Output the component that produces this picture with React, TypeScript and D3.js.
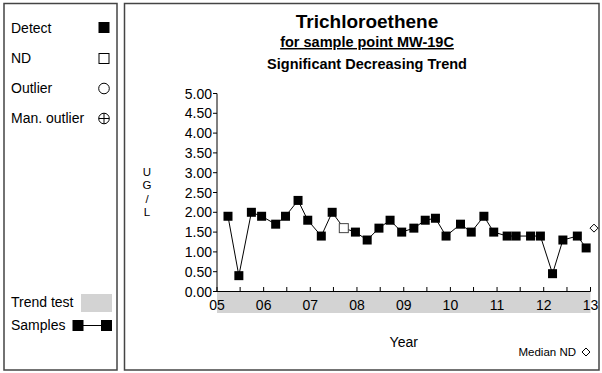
import * as d3 from 'd3';
import React from 'react';

// sampling dates and results (ug/L)
const sampleDates = [
  '2005-03-28', '2005-06-21', '2005-09-27', '2005-12-16',
  '2006-04-05', '2006-06-21', '2006-09-27', '2006-12-12',
  '2007-03-28', '2007-06-21', '2007-09-20', '2007-12-20',
  '2008-03-21', '2008-06-21', '2008-09-16', '2008-12-16',
  '2009-03-21', '2009-06-18', '2009-09-06', '2009-11-28',
  '2010-03-21', '2010-06-13', '2010-09-20', '2010-12-06',
  '2011-03-21', '2011-05-30', '2011-09-20', '2011-12-06',
  '2012-03-10', '2012-05-30', '2012-09-20', '2012-11-28',
];
const sampleValues = [
  1.9, 0.4, 2.0, 1.9,
  1.7, 1.9, 2.3, 1.8,
  1.4, 2.0, 1.6, 1.5,
  1.3, 1.6, 1.8, 1.5,
  1.6, 1.8, 1.85, 1.4,
  1.7, 1.5, 1.9, 1.5,
  1.4, 1.4, 1.4, 1.4,
  0.45, 1.3, 1.4, 1.1,
];
// true = non-detect
const sampleND = [
  false, false, false, false,
  false, false, false, false,
  false, false, true, false,
  false, false, false, false,
  false, false, false, false,
  false, false, false, false,
  false, false, false, false,
  false, false, false, false,
];
const medianND = 1.6;
const yTicks = [0, 0.5, 1, 1.5, 2, 2.5, 3, 3.5, 4, 4.5, 5];
const legendItems = ['Detect', 'ND', 'Outlier', 'Man. outlier'];
const unitLetters = ['U', 'G', '/', 'L'];

const FONT = '"Liberation Sans", Arial, sans-serif';

export default function App() {
  const parse = d3.timeParse('%Y-%m-%d');
  const data = sampleDates.map((d, i) => ({
    date: parse(d) as Date,
    value: sampleValues[i],
    nd: sampleND[i],
  }));

  const x = d3
    .scaleTime()
    .domain([new Date(2005, 0, 1), new Date(2013, 0, 1)])
    .range([217, 590.5]);
  const y = d3.scaleLinear().domain([0, 5]).range([291.5, 93.5]);

  const yearTicks = x.ticks(d3.timeYear.every(1));
  const halfTicks = d3.timeMonth.every(6)!.range(new Date(2005, 0, 1), new Date(2013, 0, 2));
  const fmt = d3.timeFormat('%y');

  const line = d3
    .line<{ date: Date; value: number }>()
    .x((d) => x(d.date))
    .y((d) => y(d.value));

  const sq = 9;
  const [x0, x1] = x.range();

  return (
    <svg
      width={602}
      height={373}
      style={{ position: 'absolute', left: 0, top: 0, background: '#fff' }}
      fontFamily={FONT}
    >
      {/* frames */}
      <rect x={4} y={3.5} width={113} height={366.5} fill="none" stroke="#444" strokeWidth={1.5} />
      <rect x={124.5} y={3.5} width={474.5} height={366.5} fill="none" stroke="#444" strokeWidth={1.5} />

      {/* legend */}
      {legendItems.map((t, i) => (
        <text key={t} x={11} y={33 + i * 30} fontSize={14}>
          {t}
        </text>
      ))}
      <rect x={98.5} y={22} width={11} height={11} fill="#000" />
      <rect x={99} y={53.5} width={10} height={10} fill="#fff" stroke="#000" strokeWidth={1} />
      <circle cx={104} cy={88.5} r={5.3} fill="none" stroke="#000" strokeWidth={1} />
      <circle cx={104} cy={118.5} r={5.3} fill="none" stroke="#000" strokeWidth={1} />
      <line x1={98.7} x2={109.3} y1={118.5} y2={118.5} stroke="#000" strokeWidth={1} />
      <line x1={104} x2={104} y1={113.2} y2={123.8} stroke="#000" strokeWidth={1} />

      <text x={11} y={307} fontSize={14}>Trend test</text>
      <rect x={81} y={294} width={31} height={18} fill="#d3d3d3" />
      <text x={11} y={330} fontSize={14}>Samples</text>
      <line x1={78} x2={106} y1={325.5} y2={325.5} stroke="#000" strokeWidth={1} />
      <rect x={72.5} y={320} width={11} height={11} fill="#000" />
      <rect x={101} y={320} width={11} height={11} fill="#000" />

      {/* titles */}
      <text x={367} y={28} fontSize={19} fontWeight="bold" textAnchor="middle">
        Trichloroethene
      </text>
      <text x={367} y={47} fontSize={14.5} fontWeight="bold" textAnchor="middle" textDecoration="underline">
        for sample point MW-19C
      </text>
      <text x={367} y={69} fontSize={14.5} fontWeight="bold" textAnchor="middle">
        Significant Decreasing Trend
      </text>

      {/* trend test band */}
      <rect x={x0} y={292} width={x1 - x0} height={21} fill="#d3d3d3" />

      {/* y axis */}
      <line x1={x0} x2={x0} y1={y(5)} y2={y(0)} stroke="#000" strokeWidth={1} />
      {yTicks.map((t) => (
        <g key={t}>
          <line x1={x0 - 4} x2={x0} y1={y(t)} y2={y(t)} stroke="#000" strokeWidth={1} />
          <text x={x0 - 5} y={y(t) + 5} fontSize={14} textAnchor="end">
            {t.toFixed(2)}
          </text>
        </g>
      ))}
      {unitLetters.map((c, i) => (
        <text key={i} x={147} y={176 + i * 13.3} fontSize={11.5} textAnchor="middle">
          {c}
        </text>
      ))}

      {/* x axis */}
      <line x1={x0} x2={x1} y1={291.5} y2={291.5} stroke="#000" strokeWidth={1} />
      {halfTicks.map((t) => (
        <line key={+t} x1={x(t)} x2={x(t)} y1={287} y2={291.5} stroke="#000" strokeWidth={1} />
      ))}
      {yearTicks.map((t) => (
        <text key={+t} x={x(t)} y={310} fontSize={14} textAnchor="middle">
          {fmt(t)}
        </text>
      ))}
      <text x={(x0 + x1) / 2} y={347} fontSize={14} textAnchor="middle">
        Year
      </text>

      {/* samples */}
      <path d={line(data) ?? ''} fill="none" stroke="#000" strokeWidth={1} />
      {data.map((d, i) =>
        d.nd ? (
          <rect
            key={i}
            x={x(d.date) - sq / 2}
            y={y(d.value) - sq / 2}
            width={sq}
            height={sq}
            fill="#fff"
            stroke="#444"
            strokeWidth={1}
          />
        ) : (
          <rect key={i} x={x(d.date) - sq / 2} y={y(d.value) - sq / 2} width={sq} height={sq} fill="#000" />
        ),
      )}

      {/* median ND */}
      <path
        d={`M594,${y(medianND) - 4}L598,${y(medianND)}L594,${y(medianND) + 4}L590,${y(medianND)}Z`}
        fill="#fff"
        stroke="#000"
        strokeWidth={1}
      />
      <text x={576} y={356} fontSize={11.5} textAnchor="end">
        Median ND
      </text>
      <path d="M586,348L590,352L586,356L582,352Z" fill="#fff" stroke="#000" strokeWidth={1} />
    </svg>
  );
}
